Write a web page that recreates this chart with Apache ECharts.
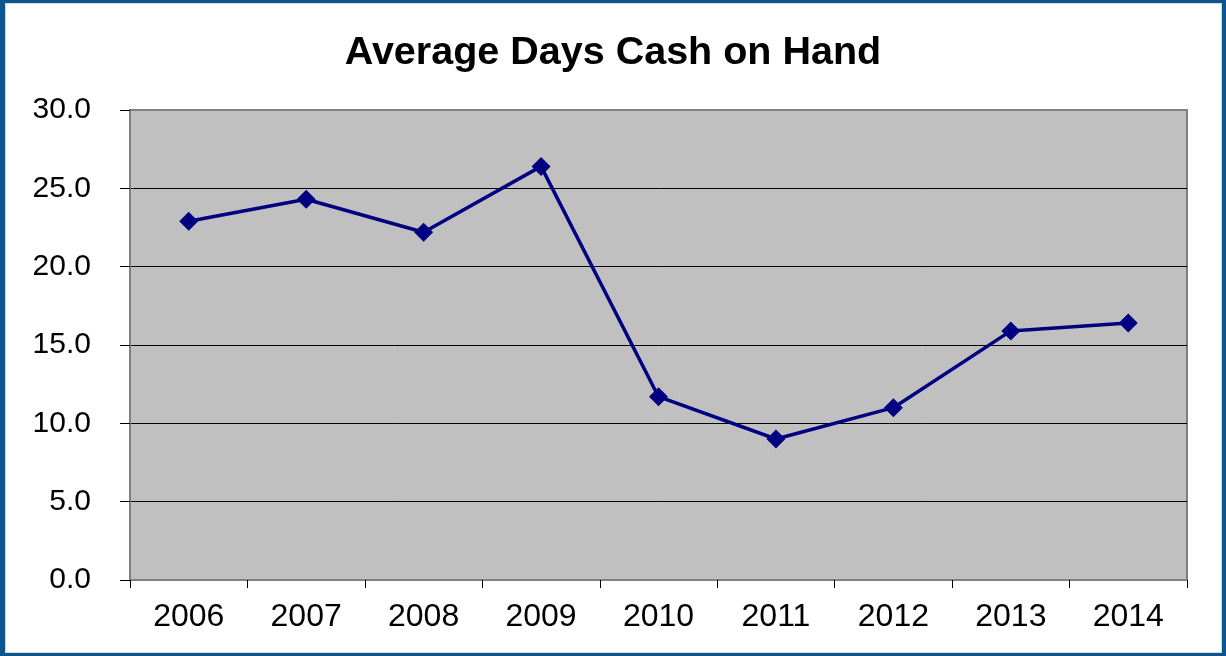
<!DOCTYPE html>
<html>
<head>
<meta charset="utf-8">
<script src="https://cdn.jsdelivr.net/npm/echarts@6/dist/echarts.min.js"></script>
<style>
html,body{margin:0;padding:0;background:#fff;}
#wrap{position:relative;width:1226px;height:656px;}
#chart{position:absolute;left:0;top:0;width:1226px;height:656px;}
#frame{position:absolute;left:0;top:0;width:1226px;height:656px;box-sizing:border-box;
  border-style:solid;border-color:#0d5591;border-width:3px 4px 3px 5px;
  box-shadow:inset 0 0 0 1px #d8d8d8;pointer-events:none;}
</style>
</head>
<body>
<div id="wrap"><div id="chart"></div><div id="frame"></div></div>
<script>
const titleText = 'Average Days Cash on Hand';
const years = ['2006','2007','2008','2009','2010','2011','2012','2013','2014'];
const daysCash = [22.9, 24.3, 22.2, 26.4, 11.7, 9.0, 11.0, 15.9, 16.4];

const chart = echarts.init(document.getElementById('chart'), null, {renderer:'canvas'});
chart.setOption({
  animation: false,
  backgroundColor: '#ffffff',
  title: {
    text: titleText,
    left: 'center',
    top: 28,
    textStyle: {fontFamily: 'Liberation Sans, Arial, sans-serif', fontSize: 39.5, fontWeight: 'bold', color: '#000'}
  },
  grid: {
    left: 130, right: 39, top: 110, bottom: 76,
    show: true, backgroundColor: '#c0c0c0', borderColor: '#808080', borderWidth: 2
  },
  xAxis: {
    type: 'category',
    data: years,
    boundaryGap: true,
    axisLine: {show: true, lineStyle: {color: '#808080', width: 2}},
    axisTick: {show: true, length: 8, lineStyle: {color: '#000', width: 1}},
    axisLabel: {margin: 21, fontFamily: 'Liberation Sans, Arial, sans-serif', fontSize: 32, color: '#000'},
    splitLine: {show: false}
  },
  yAxis: {
    type: 'value',
    min: 0, max: 30, interval: 5,
    axisLine: {show: true, lineStyle: {color: '#808080', width: 2}},
    axisTick: {show: true, length: 10, lineStyle: {color: '#000', width: 1}},
    axisLabel: {margin: 39, fontFamily: 'Liberation Sans, Arial, sans-serif', fontSize: 30, color: '#000',
      formatter: v => v.toFixed(1)},
    splitLine: {show: true, lineStyle: {color: ['#808080','#000','#000','#000','#000','#000','#808080'], width: 1}}
  },
  series: [{
    type: 'line',
    data: daysCash,
    symbol: 'diamond',
    symbolSize: 19,
    lineStyle: {color: '#000080', width: 3.5},
    itemStyle: {color: '#000080'}
  }]
});
</script>
</body>
</html>
